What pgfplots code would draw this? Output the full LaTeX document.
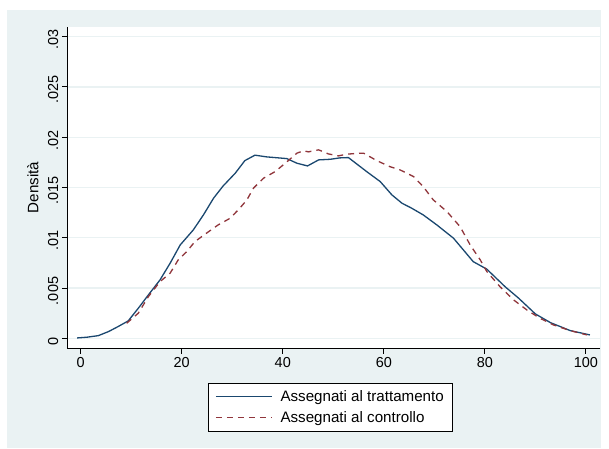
\documentclass[border=0pt]{standalone}
\usepackage{fontspec}
\setmainfont{Liberation Sans}
\usepackage{pgfplots}
\pgfplotsset{compat=1.18}
\usepackage{pgfplotstable}

\definecolor{stbg}{RGB}{234,242,243}
\definecolor{stnavy}{RGB}{26,71,111}
\definecolor{stmaroon}{RGB}{144,53,59}

% kernel density, treated
\pgfplotstableread{
x y
-0.7 0.00003
1.2 0.0001
3.5 0.00026
5.5 0.00066
7.4 0.00116
9.4 0.00172
11.4 0.00298
13.4 0.00431
15.7 0.0058
17.7 0.00746
19.7 0.00928
22.3 0.01078
24.3 0.01227
26.3 0.01393
28.2 0.01515
30.6 0.01642
32.5 0.01767
34.5 0.01821
36.8 0.01804
40.8 0.01787
42.8 0.01741
44.9 0.01714
47.1 0.01774
49.4 0.0178
51.3 0.01794
53.0 0.01797
56.6 0.01658
59.3 0.01558
61.6 0.01426
63.6 0.01343
65.5 0.01294
67.8 0.01227
70.5 0.01127
73.8 0.00995
77.7 0.00762
80.4 0.00687
84.0 0.00513
86.7 0.00398
90.0 0.00242
93.0 0.00155
96.9 0.00076
100.8 0.00033
}\trattamento

% kernel density, control
\pgfplotstableread{
x y
9.1 0.00149
11.4 0.00249
13.4 0.00414
15.7 0.00563
17.7 0.00647
19.3 0.00779
21.0 0.00862
22.6 0.00961
24.9 0.01045
27.2 0.01127
29.6 0.01194
31.5 0.01294
32.9 0.01376
34.2 0.01493
36.2 0.01592
38.5 0.01658
40.5 0.01741
42.8 0.01841
44.1 0.01864
45.1 0.01854
47.1 0.01874
49.0 0.01834
51.0 0.01814
52.7 0.01831
55.3 0.01841
56.0 0.01841
58.6 0.01767
61.2 0.01707
63.2 0.01675
65.9 0.01608
67.8 0.01508
69.8 0.01376
72.5 0.0126
75.1 0.0111
77.1 0.00928
79.1 0.00779
80.4 0.00663
83.0 0.00513
85.7 0.00381
88.3 0.00282
90.9 0.00199
93.6 0.00132
96.9 0.00076
100.2 0.00033
}\controllo

\begin{document}
\begin{tikzpicture}[x=1bp,y=1bp]
\useasboundingbox (0,0) rectangle (609,449);
\fill[stbg] (7,1) rectangle (601,439);
\begin{axis}[
    at={(67.3bp,100.7bp)}, anchor=south west,
    scale only axis, width=532.7bp, height=321.7bp,
    xmin=-2.65, xmax=102.8, ymin=-0.001, ymax=0.031,
    scaled y ticks=false,
    axis background/.style={fill=white},
    axis lines*=left,
    axis line style={-, black, line width=0.9bp},
    tick align=outside,
    major tick length=5.5bp,
    tick style={black, line width=0.9bp},
    xtick={0,20,40,60,80,100},
    xticklabels={0,20,40,60,80,100},
    ytick={0,0.005,0.01,0.015,0.02,0.025,0.03},
    yticklabels={0,.005,.01,.015,.02,.025,.03},
    ymajorgrids,
    major grid style={stbg, line width=1.3bp},
    tick label style={font=\fontsize{14.5}{16}\selectfont},
    xticklabel style={anchor=north},
    yticklabel style={rotate=90, anchor=south, xshift=-3bp},
    ylabel={Densità},
    every axis y label/.style={at={(axis description cs:-0.0644,0.5)}, rotate=90, anchor=center, font=\fontsize{15.2}{17}\selectfont},
    legend style={at={(axis description cs:0.2638,-0.107)}, anchor=north west,
        draw=black, line width=0.8bp, fill=white,
        font=\fontsize{15.2}{17}\selectfont,
        inner xsep=7bp, inner ysep=5.5bp, row sep=4bp,
        /tikz/every odd column/.style={column sep=6bp}},
    legend cell align=left,
    legend image code/.code={\draw[#1] (0bp,0bp) -- (56bp,0bp);},
]
\addplot[stnavy, line width=1.3bp] table[x=x,y=y] {\trattamento};
\addlegendentry{Assegnati al trattamento}
\addplot[stmaroon, line width=1.3bp, dash pattern=on 6bp off 5bp] table[x=x,y=y] {\controllo};
\addlegendentry{Assegnati al controllo}
\end{axis}
\end{tikzpicture}
\end{document}
